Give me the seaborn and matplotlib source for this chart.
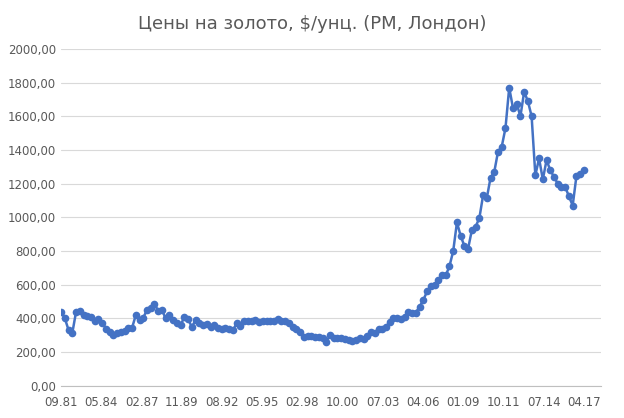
import matplotlib
matplotlib.use("Agg")
import matplotlib.pyplot as plt
import seaborn as sns
import numpy as np
import pandas as pd

prices = [440,400,330,315,440,445,420,415,410,385,395,375,340,320,300,315,320,325,345,345,420,390,405,450,460,485,445,450,400,420,390,370,360,410,395,350,390,375,360,365,350,360,345,340,345,335,330,370,355,385,385,385,390,380,385,385,385,385,395,385,385,370,350,340,320,290,295,295,290,290,285,260,300,285,285,285,275,270,265,270,285,275,295,320,315,335,335,350,380,405,405,395,410,440,430,435,470,510,560,595,600,630,655,655,710,800,970,890,830,815,925,945,995,1130,1115,1235,1270,1390,1420,1530,1770,1650,1675,1600,1745,1690,1600,1250,1350,1225,1340,1280,1240,1200,1180,1180,1125,1070,1245,1260,1280]
tick_labels = ["09.81","05.84","02.87","11.89","08.92","05.95","02.98","10.00","07.03","04.06","01.09","10.11","07.14","04.17"]

df = pd.DataFrame({"i": np.arange(len(prices)), "price": prices})

sns.set_style("white")
fig = plt.figure(figsize=(6.24, 4.18), dpi=100)
ax = fig.add_axes([0.098, 0.077, 0.865, 0.806])
sns.lineplot(data=df, x="i", y="price", ax=ax, color="#4472C4", lw=1.8,
             marker="o", markersize=5.5, markeredgewidth=0, markerfacecolor="#4472C4")
n = len(prices) - 1
ax.set_xlim(0, n * (600 - 61) / (583 - 61))
ax.set_ylim(0, 2000)
ax.set_xticks(np.linspace(0, n, len(tick_labels)))
ax.set_xticklabels(tick_labels)
yt = np.arange(0, 2001, 200)
ax.set_yticks(yt)
ax.set_yticklabels([f"{v:.2f}".replace(".", ",") for v in yt])
ax.yaxis.grid(True, color="#D9D9D9", lw=0.8)
ax.set_axisbelow(True)
for s in ["top", "right", "left"]:
    ax.spines[s].set_visible(False)
ax.spines["bottom"].set_color("#BFBFBF")
ax.tick_params(axis="both", colors="#595959", labelsize=8.5, length=0)
ax.tick_params(axis="x", length=4, color="#BFBFBF", direction="out")
ax.set_xlabel("")
ax.set_ylabel("")
fig.suptitle("Цены на золото, $/унц. (PM, Лондон)", y=0.965, fontsize=13, color="#595959")
fig.savefig("out.png", dpi=100)
